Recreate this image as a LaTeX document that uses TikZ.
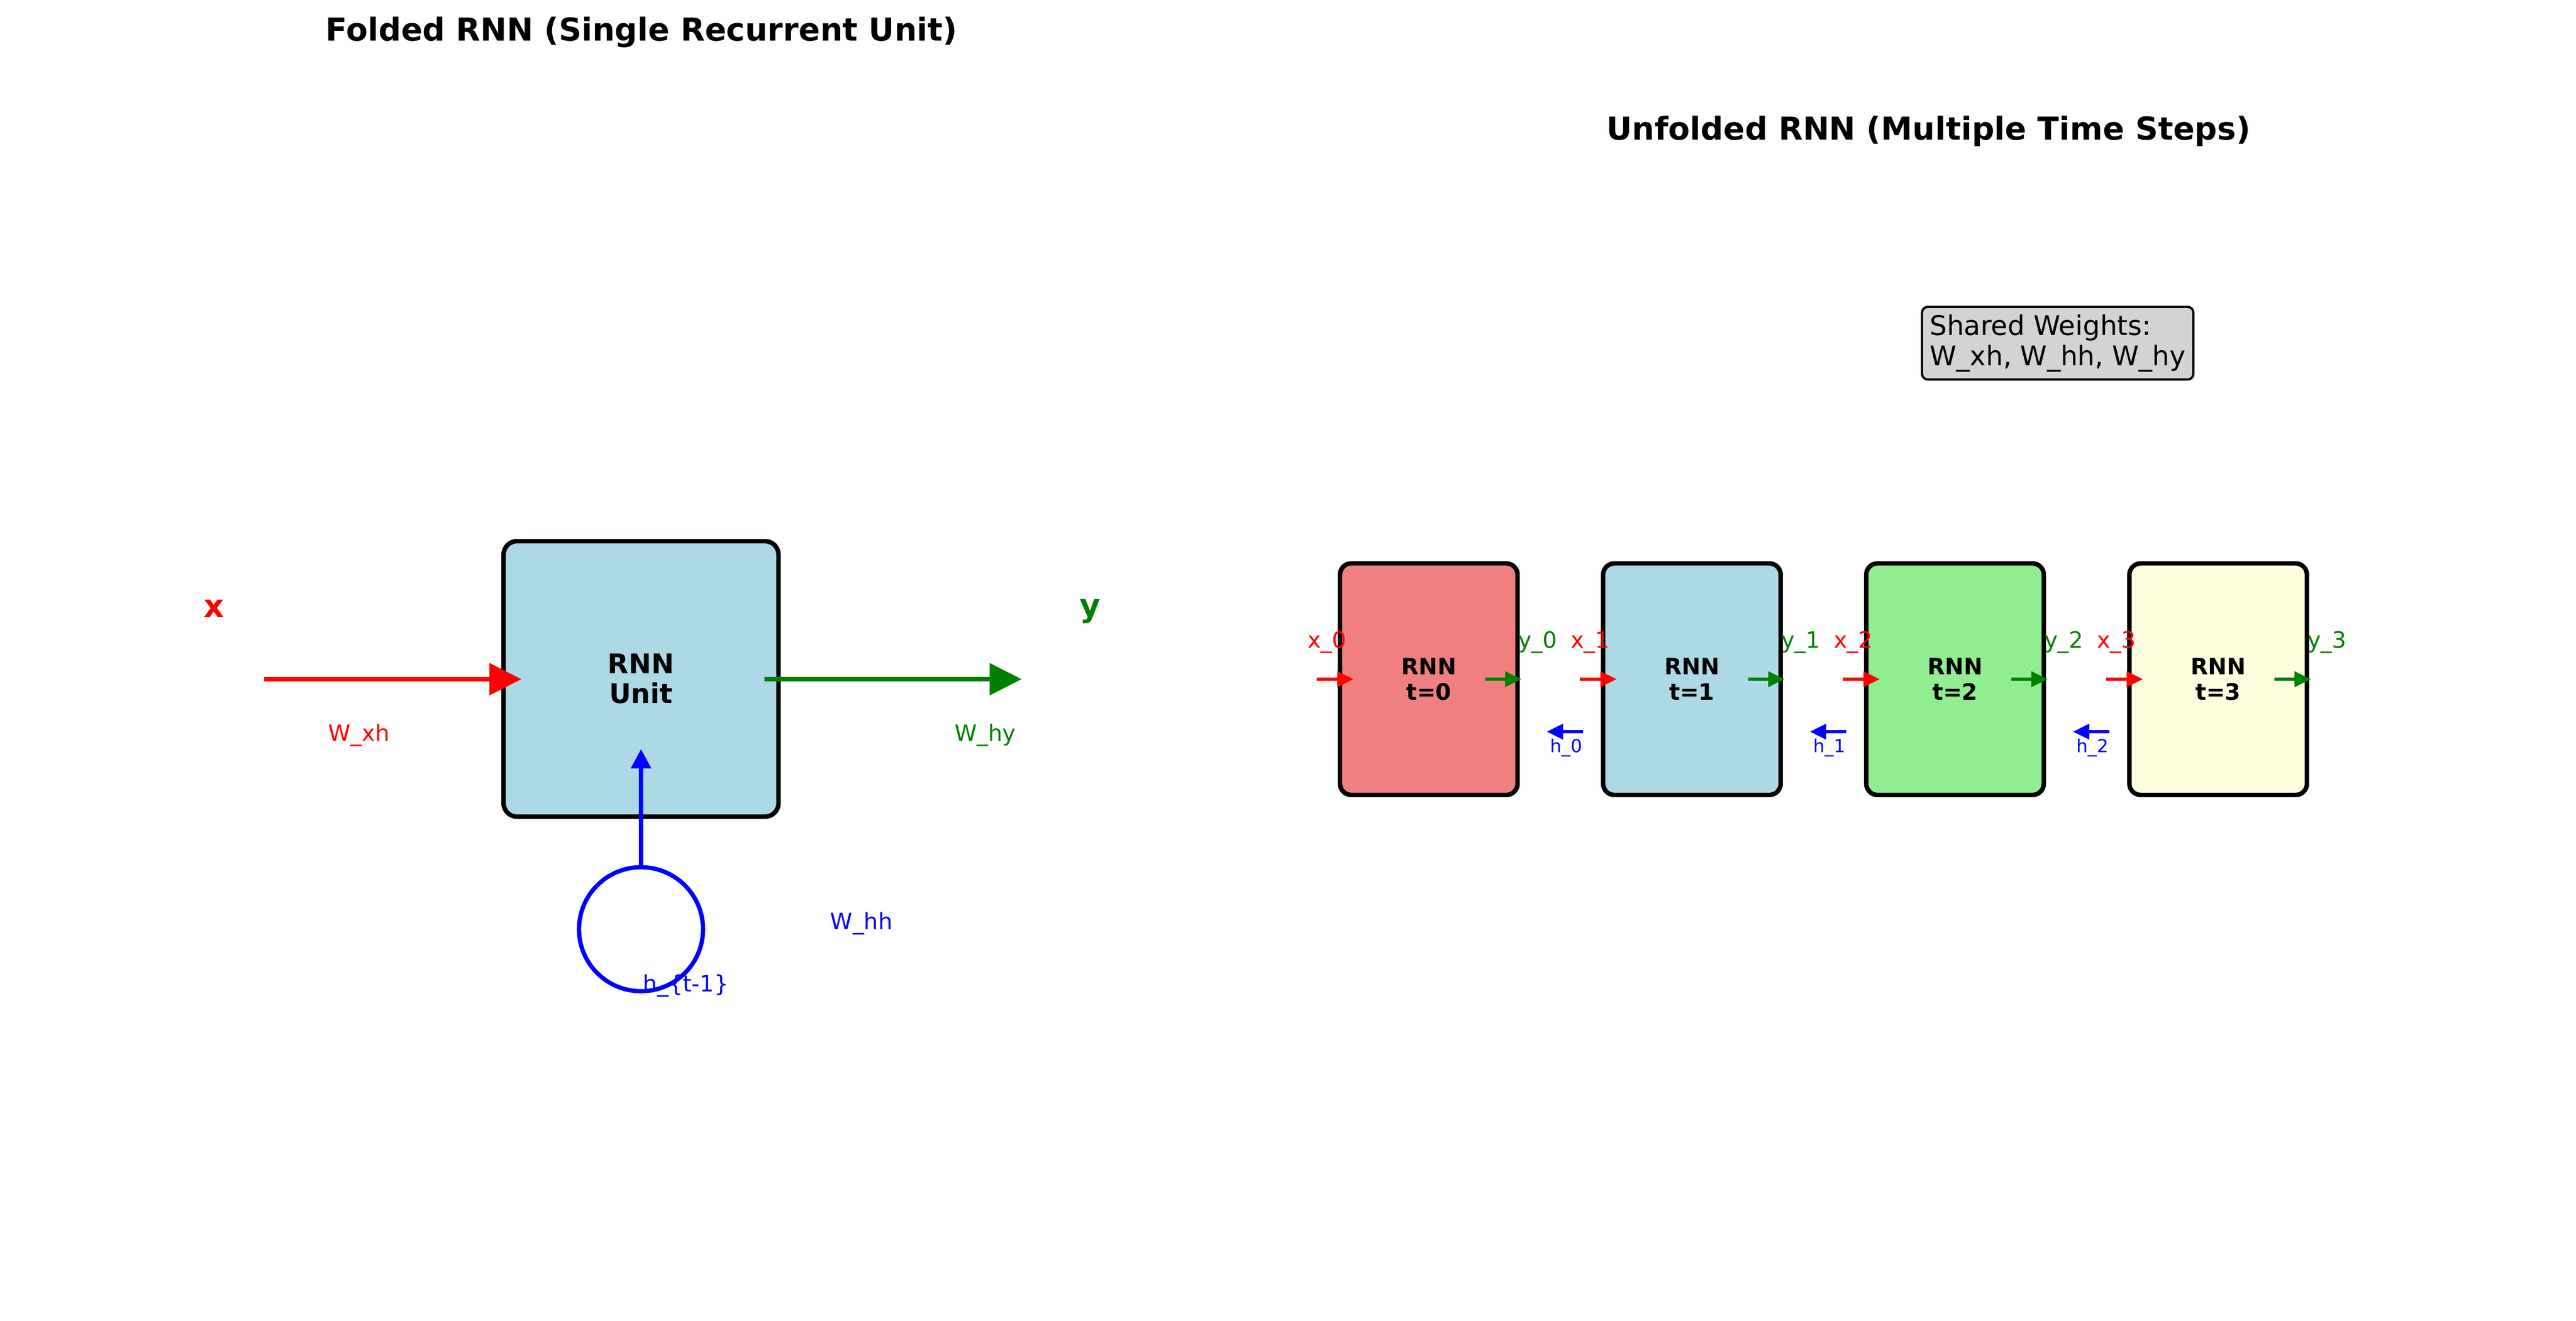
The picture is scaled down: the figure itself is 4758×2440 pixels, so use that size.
\documentclass[tikz,border=0pt]{standalone}
\usepackage{fontspec}
\setmainfont{DejaVu Sans}
\usetikzlibrary{arrows.meta,calc}
\definecolor{mred}{HTML}{FF0000}
\definecolor{mgreen}{HTML}{008000}
\definecolor{mblue}{HTML}{0000FF}
\definecolor{lblue}{HTML}{ADD8E6}
\definecolor{lcoral}{HTML}{F08080}
\definecolor{lgreen}{HTML}{90EE90}
\definecolor{lyellow}{HTML}{FFFFE0}
\definecolor{lgray}{HTML}{D3D3D3}
\begin{document}
\begin{tikzpicture}[x=0.24pt,y=-0.24pt,
  titletext/.style={font=\bfseries\fontsize{14pt}{16.8pt}\selectfont, anchor=base, inner sep=0},
  lab/.style={font=\fontsize{10pt}{12pt}\selectfont, anchor=base, inner sep=0},
  smalllab/.style={font=\fontsize{8pt}{9.6pt}\selectfont, anchor=base, inner sep=0},
  biglab/.style={font=\bfseries\fontsize{14pt}{16.8pt}\selectfont, anchor=base, inner sep=0},
  bigbox/.style={draw=black, line width=2pt, rounded corners=6pt, fill=lblue,
    minimum width=121.9pt, minimum height=122.2pt, inner sep=0, outer sep=0,
    align=center, font=\bfseries\fontsize{12pt}{13.2pt}\selectfont},
  ubox/.style={draw=black, line width=2pt, rounded corners=5pt,
    minimum width=78.7pt, minimum height=102.7pt, inner sep=0, outer sep=0,
    align=center, font=\bfseries\fontsize{10pt}{11.3pt}\selectfont},
  bigarrow/.style={line width=1.9pt, -{Triangle[length=14.2pt,width=13.9pt]}},
  uparrow/.style={line width=1.9pt, -{Triangle[length=8.6pt,width=8.6pt]}},
  smallarrow/.style={line width=1.4pt, -{Triangle[length=7.2pt,width=6.7pt]}},
  sharedbox/.style={draw=black, line width=1pt, fill=lgray, rounded corners=2.5pt,
    align=left, inner xsep=3.4pt, inner ysep=3.4pt, anchor=north west,
    font=\fontsize{12pt}{13.44pt}\selectfont}
]
\path[use as bounding box] (0,0) rectangle (4758,2440);

% ---------- Folded RNN ----------
\node[titletext] (t1) at (1185,75) {Folded RNN (Single Recurrent Unit)};
\node[bigbox] (unit) at (1184,1254.5) {RNN\\Unit};
\node[circle, draw=mblue, line width=1.9pt, minimum size=55pt, inner sep=0, outer sep=0] (loop) at (1184,1717) {};

\coordinate (xs) at (488,1255);
\coordinate (xe) at (963,1255);
\coordinate (ys) at (1412,1255);
\coordinate (ye) at (1887,1255);
\coordinate (htip) at (1184,1384);
\draw[bigarrow, mred] (xs) -- (xe);
\draw[bigarrow, mgreen] (ys) -- (ye);
\draw[uparrow, mblue] (loop.north) -- (htip);

\node[biglab, text=mred] (xlab) at (395,1140) {x};
\node[biglab, text=mgreen] (ylab) at (2013,1139) {y};
\node[lab, text=mred] (wxh) at (663,1369) {W\_xh};
\node[lab, text=mgreen] (why) at (1820,1369) {W\_hy};
\node[lab, text=mblue, anchor=base west] (whh) at (1533,1717) {W\_hh};
\node[lab, text=mblue, anchor=base west] (hprev) at (1187,1832) {h\_\{t-1\}};

% ---------- Unfolded RNN ----------
\node[titletext] (t2) at (3562,258) {Unfolded RNN (Multiple Time Steps)};
\node[sharedbox] (shared) at (3548,565) {Shared Weights:\\W\_xh, W\_hh, W\_hy};

\foreach \i/\col in {0/lcoral,1/lblue,2/lgreen,3/lyellow} {
  \pgfmathsetmacro\cx{2639+486*\i}
  \pgfmathsetmacro\lx{\cx-164}
  \pgfmathsetmacro\rx{\cx+164}
  \node[ubox, fill=\col] (u\i) at (\cx,1255) {RNN\\t=\i};
  \coordinate (xs\i) at ({\lx-43},1255);
  \coordinate (xe\i) at ({\lx+25},1255);
  \coordinate (ys\i) at ({\rx-60},1255);
  \coordinate (ye\i) at ({\rx+7},1255);
  \draw[smallarrow, mred] (xs\i) -- (xe\i);
  \draw[smallarrow, mgreen] (ys\i) -- (ye\i);
  \node[lab, text=mred] (xl\i) at ({\lx-24},1197) {x\_\i};
  \node[lab, text=mgreen] (yl\i) at ({\rx+37},1197) {y\_\i};
  \ifnum\i<3
    \coordinate (hs\i) at ({\rx+486-328-37},1352);
    \coordinate (he\i) at ({\rx+54},1352);
    \draw[smallarrow, mblue] (hs\i) -- (he\i);
    \node[smalllab, text=mblue] (hl\i) at ({\rx+90},1390) {h\_\i};
  \fi
}
\end{tikzpicture}
\end{document}
